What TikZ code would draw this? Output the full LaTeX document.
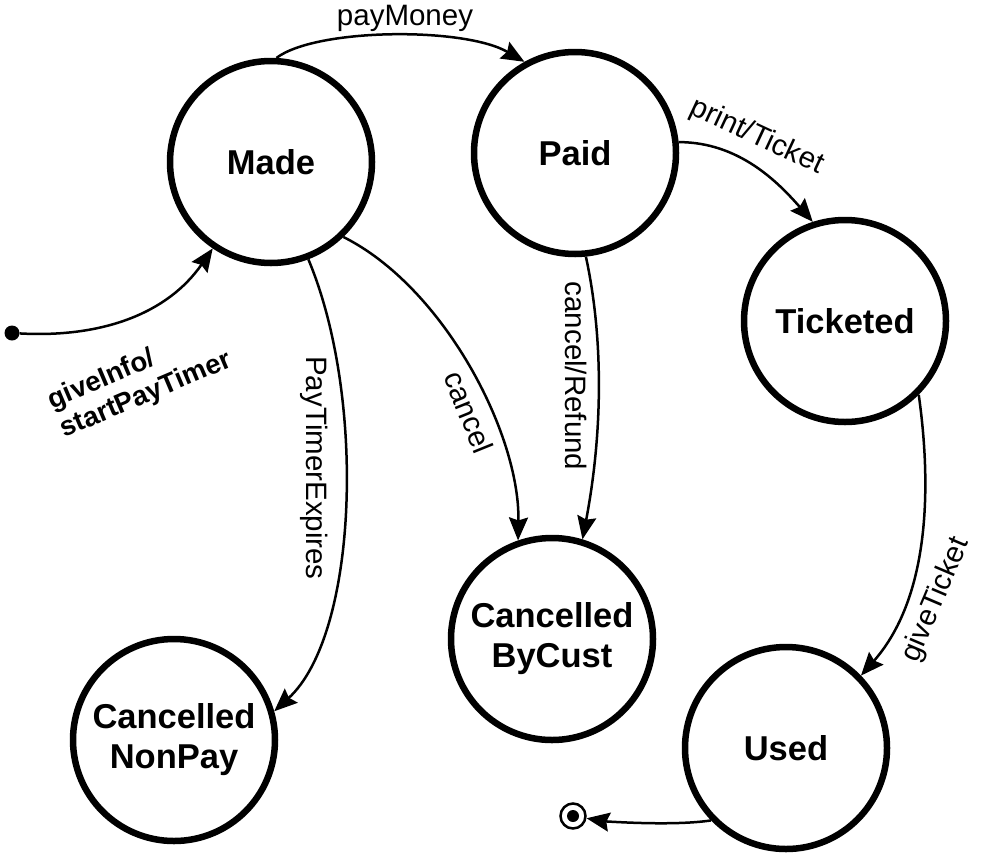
\documentclass[tikz,border=0pt]{standalone}
\usepackage{fontspec}
\setmainfont{Liberation Sans}
\usetikzlibrary{arrows.meta}
\begin{document}
\begin{tikzpicture}[x=1pt,y=-1pt,
  state/.style={circle,draw,line width=6.5pt,minimum size=202pt,inner sep=0pt,
    font=\fontsize{34.5}{40}\selectfont\bfseries,align=center},
  trans/.style={line width=2.5pt,-{Stealth[length=23pt,width=19pt,inset=3pt]}},
  lbl/.style={font=\fontsize{29.5}{34}\selectfont,inner sep=0pt},
  lblb/.style={font=\fontsize{27.5}{31}\selectfont\bfseries,inner sep=0pt,align=left}]
\useasboundingbox[fill=white] (0,0) rectangle (1000,854);

% states
\node[state] (made) at (271,162) {Made};
\node[state] (paid) at (575,153) {Paid};
\node[state] (tick) at (845,321) {Ticketed};
\node[state] (cbc)  at (552,639) {Cancelled\\ByCust};
\node[state] (cnp)  at (174,740) {Cancelled\\NonPay};
\node[state] (used) at (786,748) {Used};

% pseudo states
\node[circle,fill,inner sep=0pt,minimum size=15pt] (init) at (12,333) {};
\node[circle,draw,line width=2.5pt,inner sep=0pt,minimum size=25pt] (final) at (573,816) {};
\node[circle,fill,inner sep=0pt,minimum size=12pt] (finaldot) at (573,816) {};

% transitions
\draw[trans] (init) .. controls +(90,5) and +(-45,65) .. (made.-124);
\draw[trans] (made.87) .. controls +(40,-30) and +(-60,-35) .. (paid.119);
\draw[trans] (paid.6) .. controls +(60,0) and +(-35,-40) .. (tick.108);
\draw[trans] (paid.-84) .. controls +(18,83) and +(20,-105) .. (cbc.73);
\draw[trans] (made.-46) .. controls +(100,50) and +(2,-107) .. (cbc.109);
\draw[trans] (made.-69) .. controls +(58,138) and +(84,-77) .. (cnp.16);
\draw[trans] (tick.-45) .. controls +(11,78) and +(73,-83) .. (used.44);
\draw[trans] (used.-136) .. controls +(-40,6) and +(30,5) .. (final);

% labels
\node[lblb,rotate=23] (lgive) at (140,381) {giveInfo/\\startPayTimer};
\node[lbl] (lpay) at (405,18) {payMoney};
\node[lbl,rotate=-25] (lprint) at (757,137) {print/Ticket};
\node[lbl,rotate=-90] (lrefund) at (576,376) {cancel/Refund};
\node[lbl,rotate=-68] (lcancel) at (469,412) {cancel};
\node[lbl,rotate=-90] (lexp) at (314,468) {PayTimerExpires};
\node[lbl,rotate=67] (lgiveT) at (936,600) {giveTicket};
\end{tikzpicture}
\end{document}
